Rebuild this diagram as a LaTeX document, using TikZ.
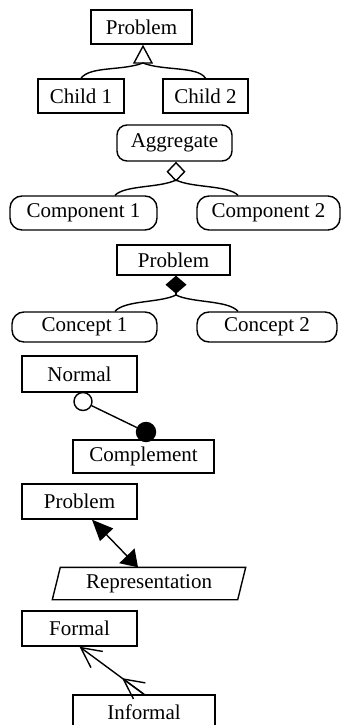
\documentclass[tikz,border=0pt]{standalone}
\usepackage{fontspec}
\setmainfont{Liberation Serif}
\usetikzlibrary{arrows.meta,calc}

\begin{document}
\begin{tikzpicture}[x=1pt,y=-1pt,line width=1.4pt,font=\fontsize{21}{25}\selectfont,
  box/.style={draw,inner sep=0pt},
  rbox/.style={draw,inner sep=0pt,rounded corners=12pt},
  dot/.style={circle,draw,inner sep=0pt}]
\useasboundingbox (0,0) rectangle (342,725);
% generalisation
\node [box,minimum width=101pt,minimum height=34pt] (prob1) at (141.5,27) {Problem};
\node [box,minimum width=86pt,minimum height=34pt] (child1) at (81,96) {Child 1};
\node [box,minimum width=85pt,minimum height=34pt] (child2) at (205.5,96) {Child 2};
\coordinate (gen) at (143,63);
\draw [-{Triangle[open,length=19pt,width=20pt]}] (gen) -- ([xshift=1.5pt]prob1.south);
\draw (gen) .. controls (122,71) and (90,66) .. (child1.north);
\draw (gen) .. controls (163,71) and (198,66) .. (child2.north);
% aggregation
\node [rbox,rounded corners=10pt,minimum width=115pt,minimum height=36pt] (agg) at (174.5,143) {Aggregate};
\node [rbox,minimum width=147pt,minimum height=34pt] (comp1) at (83.5,213) {Component 1};
\node [rbox,minimum width=143pt,minimum height=34pt] (comp2) at (268.5,213) {Component 2};
\coordinate (agr) at (176,180);
\draw [-{Diamond[open,length=20pt,width=19pt]}] (agr) -- ([xshift=1.5pt]agg.south);
\draw (agr) .. controls (160,188) and (125,185) .. ([xshift=31.5pt]comp1.north);
\draw (agr) .. controls (192,188) and (228,185) .. ([xshift=-30.5pt]comp2.north);
% composition
\node [box,minimum width=113pt,minimum height=30pt] (prob3) at (173.5,260) {Problem};
\node [rbox,minimum width=145pt,minimum height=30pt] (conc1) at (84.5,327) {Concept 1};
\node [rbox,minimum width=140pt,minimum height=30pt] (conc2) at (267,327) {Concept 2};
\coordinate (cmp) at (176,295);
\draw [-{Diamond[length=18pt,width=21pt]}] (cmp) -- ([xshift=2.5pt]prob3.south);
\draw (cmp) .. controls (160,303) and (125,300) .. ([xshift=30.5pt]conc1.north);
\draw (cmp) .. controls (192,303) and (228,300) .. ([xshift=-29pt]conc2.north);
% complement
\node [box,minimum width=115pt,minimum height=36pt] (norm) at (79.5,374) {Normal};
\node [box,minimum width=141pt,minimum height=33pt] (compl) at (143.5,456.5) {Complement};
\node [dot,fill=white,minimum size=18pt] (nrm) at (83,401.5) {};
\node [dot,fill=black,minimum size=19pt] (cpl) at (146,432) {};
\draw (nrm) -- (cpl);
% representation
\node [box,minimum width=115pt,minimum height=35pt] (prob5) at (79.5,501.5) {Problem};
\node [inner sep=0pt,minimum width=184pt,minimum height=31pt] (rep) at (149,583.5) {Representation};
\draw ([xshift=4pt]rep.north west) -- ([xshift=4pt]rep.north east) -- ([xshift=-4pt]rep.south east) -- ([xshift=-4pt]rep.south west) -- cycle;
\draw [{Triangle[length=21pt,width=18pt]}-{Triangle[length=16pt,width=21pt]}] ([xshift=12.5pt]prob5.south) -- ([xshift=-11pt]rep.north);
% formalisation
\node [box,minimum width=115pt,minimum height=35pt] (form) at (79.5,628.5) {Formal};
\node [box,minimum width=142pt,minimum height=35pt] (inform) at (144,712.5) {Informal};
\draw [-{Straight Barb[length=20pt,width=20pt]}] (inform.north) -- (form.south);
\draw [-{Straight Barb[length=20pt,width=20pt]}] (inform.north) -- ($(inform.north)!0.34!(form.south)$);
\end{tikzpicture}
\end{document}
